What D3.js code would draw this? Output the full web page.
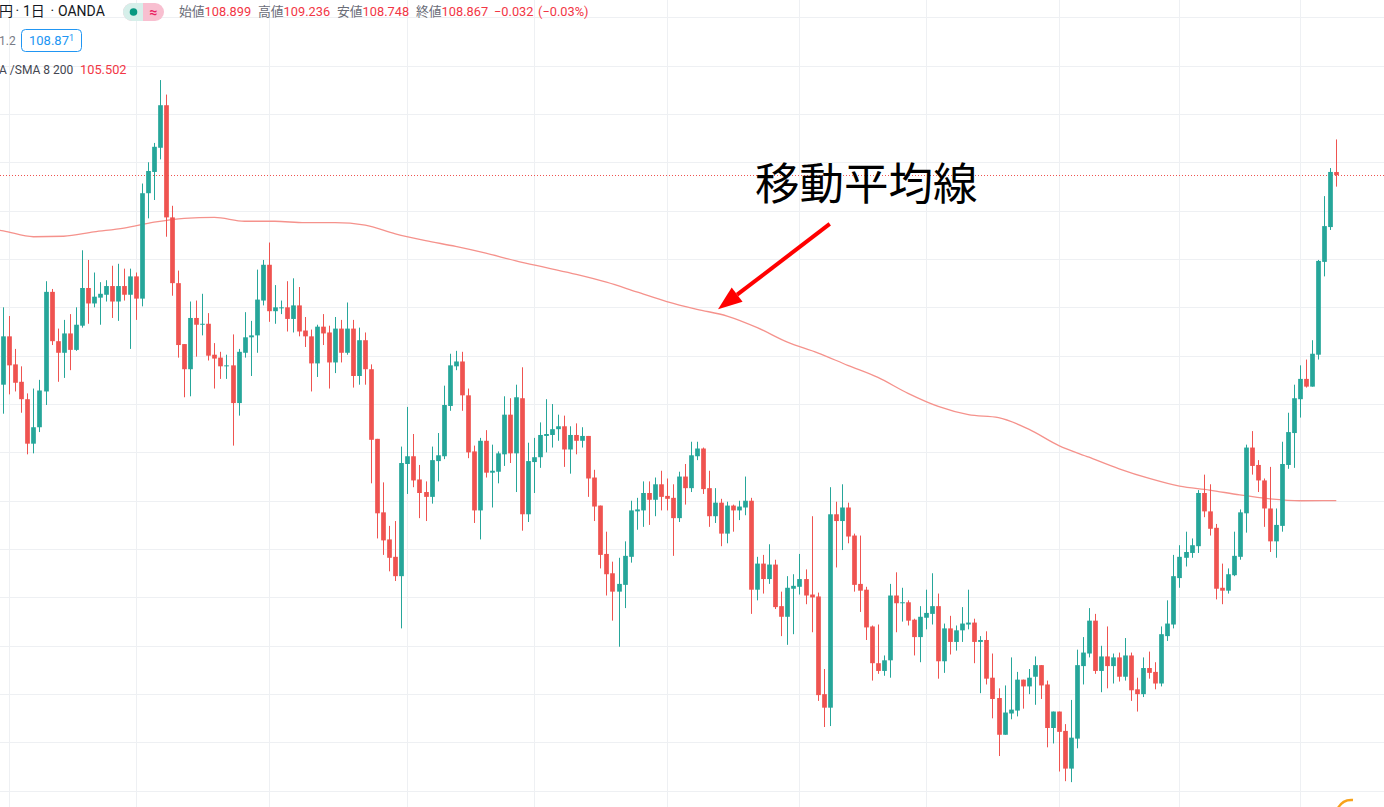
<!DOCTYPE html>
<html lang="ja">
<head>
<meta charset="UTF-8" />
<title>USD/JPY 1日 OANDA</title>
<script src="https://d3js.org/d3.v7.min.js"></script>
<style>
  body {
    margin: 0;
    overflow: hidden;
    background: #fff;
    font-family: Roboto, "Noto Sans CJK JP", sans-serif;
  }
  svg { display: block; }
</style>
</head>
<body>

<svg id="chart"></svg>

<script>
// daily bars (first bar 2020-04-30)
const openP = [
  106.70,107.20,106.91,106.73,106.55,106.09,106.26,106.63,107.66,107.15,
  107.03,107.23,107.06,107.31,107.70,107.54,107.60,107.63,107.72,107.56,
  107.72,107.63,107.82,107.59,108.68,108.90,109.15,109.59,108.43,107.75,
  107.12,106.86,107.39,107.32,107.33,107.01,106.98,106.89,106.90,106.51,
  107.03,107.19,107.21,107.57,107.94,107.46,107.49,107.50,107.38,107.52,
  107.26,107.20,106.92,107.30,107.24,106.93,107.28,107.03,107.28,106.79,
  107.16,106.86,106.14,105.38,105.10,104.92,104.72,105.88,105.96,105.72,
  105.59,105.54,105.91,105.96,106.48,106.89,106.94,106.59,106.01,105.40,
  106.12,105.79,105.80,105.98,106.39,105.99,106.56,105.36,105.90,105.95,
  106.17,106.18,106.24,106.27,106.03,106.18,106.12,106.17,105.74,105.45,
  104.95,104.75,104.56,104.63,104.92,105.39,105.40,105.58,105.51,105.67,
  105.55,105.53,105.32,105.75,105.63,105.96,106.04,105.63,105.34,105.48,
  105.16,105.45,105.40,105.43,105.50,104.58,104.85,104.69,104.84,104.41,
  104.30,104.59,104.61,104.69,104.53,104.51,103.50,103.36,105.36,105.29,
  105.43,105.14,104.64,104.58,104.20,103.82,103.74,103.85,104.52,104.44,
  104.45,104.27,104.09,104.29,104.33,104.41,103.84,104.18,104.04,104.16,
  104.22,104.24,104.04,104.06,103.67,103.46,103.08,103.30,103.33,103.65,
  103.58,103.68,103.80,103.60,103.15,103.32,103.12,102.73,103.04,103.79,
  103.92,104.26,103.74,103.89,103.79,103.88,103.68,103.90,103.55,103.50,
  103.77,103.73,103.61,104.10,104.22,104.70,104.91,104.96,105.03,105.58,
  105.39,105.22,104.60,104.57,104.73,104.92,105.37,106.05,105.87,105.71,
  105.42,105.08,105.24,105.87,106.20,106.55,106.76,106.68,107.01,107.97,
  108.33,108.899
];
const highP = [
  107.50,107.41,107.07,106.89,106.61,106.66,106.75,107.77,107.69,107.28,
  107.37,107.43,107.50,108.09,107.99,107.86,107.76,107.78,107.93,107.95,
  107.90,107.90,107.86,108.78,109.00,109.20,109.85,109.70,108.55,107.88,
  107.12,107.56,107.57,107.64,107.44,107.13,107.04,107.01,107.22,107.07,
  107.45,107.36,107.89,107.99,108.17,107.73,107.57,107.77,107.80,107.71,
  107.40,107.27,107.32,107.43,107.31,107.40,107.37,107.55,107.37,107.29,
  107.24,106.91,106.14,105.69,105.24,105.29,106.06,106.47,106.19,105.87,
  105.70,106.06,106.20,106.69,107.02,107.05,107.04,106.66,106.07,106.15,
  106.23,106.08,106.01,106.58,106.56,106.70,106.88,106.10,106.15,106.31,
  106.55,106.50,106.39,106.38,106.27,106.30,106.26,106.17,105.82,105.45,
  105.18,104.87,104.91,105.08,105.50,105.53,105.70,105.70,105.74,105.81,
  105.73,105.67,105.80,105.88,106.11,106.11,106.05,105.81,105.63,105.52,
  105.49,105.46,105.50,105.75,105.53,104.92,104.94,105.05,104.89,104.56,
  104.72,104.74,104.95,104.79,105.34,104.55,103.76,105.64,105.49,105.67,
  105.48,105.16,105.14,104.61,104.21,104.22,103.90,104.64,104.76,104.60,
  104.47,104.28,104.41,104.58,104.75,104.54,104.23,104.31,104.21,104.40,
  104.58,104.28,104.10,104.15,103.92,103.56,103.59,103.88,103.73,103.65,
  103.76,103.89,103.80,103.64,103.32,103.32,103.19,103.44,103.96,104.09,
  104.39,104.33,104.00,104.20,103.92,103.93,104.08,103.93,103.67,103.88,
  103.94,103.83,104.20,104.47,104.94,105.04,105.18,105.11,105.61,105.77,
  105.67,105.26,104.85,104.80,105.18,105.41,106.08,106.22,105.92,105.73,
  105.85,105.42,106.11,106.41,106.70,106.90,106.96,107.16,107.99,108.65,
  108.94,109.236
];
const lowP = [
  106.40,106.60,106.63,106.41,105.98,105.99,106.21,106.49,107.11,106.73,
  106.77,106.85,107.05,107.29,107.33,107.50,107.32,107.56,107.39,107.36,
  107.57,107.07,107.37,107.51,108.42,108.61,109.03,108.23,107.62,106.98,
  106.57,106.58,106.99,107.21,106.95,106.66,106.76,106.76,106.07,106.38,
  106.98,106.79,107.03,107.52,107.35,107.33,107.43,107.25,107.24,107.20,
  107.09,106.63,106.78,107.11,106.66,106.82,106.93,107.01,106.67,106.70,
  106.70,105.68,105.11,104.94,104.77,104.67,104.18,105.57,105.64,105.32,
  105.29,105.47,105.70,105.93,106.43,106.85,106.43,105.94,105.27,105.10,
  105.74,105.43,105.68,105.86,105.89,105.59,105.19,105.28,105.58,105.84,
  106.00,106.05,106.12,105.85,105.78,105.98,106.05,105.54,105.29,104.80,
  104.52,104.26,103.99,104.39,104.86,105.20,105.23,105.25,105.34,105.40,
  105.40,104.93,105.28,105.46,105.59,105.92,105.57,105.23,105.27,105.03,
  105.06,105.18,105.30,105.35,104.33,104.47,104.54,104.64,104.38,104.10,
  104.01,104.12,104.53,104.43,104.14,103.43,103.16,103.17,104.81,104.99,
  105.06,104.56,104.35,104.06,103.64,103.71,103.69,103.67,104.14,104.25,
  104.21,103.90,103.83,104.17,104.22,103.66,103.72,103.91,103.95,104.04,
  104.17,103.82,103.51,103.60,103.25,102.86,103.08,103.24,103.27,103.35,
  103.50,103.39,103.45,102.95,102.99,102.70,102.60,102.59,102.94,103.60,
  103.88,103.71,103.52,103.56,103.61,103.63,103.64,103.43,103.32,103.47,
  103.66,103.55,103.58,104.05,104.18,104.60,104.82,104.91,104.96,105.33,
  105.14,104.48,104.43,104.54,104.72,104.89,105.17,105.77,105.59,105.23,
  104.97,104.91,105.18,105.83,105.84,106.36,106.67,106.68,106.96,107.82,
  108.30,108.748
];
const closeP = [
  107.20,106.90,106.72,106.55,106.09,106.26,106.64,107.66,107.15,107.03,
  107.23,107.06,107.32,107.70,107.54,107.61,107.64,107.72,107.56,107.72,
  107.63,107.82,107.59,108.68,108.91,109.16,109.59,108.43,107.75,107.11,
  106.86,107.39,107.32,107.33,107.00,106.97,106.89,106.90,106.51,107.04,
  107.19,107.21,107.58,107.94,107.46,107.50,107.50,107.38,107.52,107.25,
  107.20,106.92,107.30,107.23,106.93,107.28,107.03,107.28,106.79,107.16,
  106.86,106.13,105.37,105.09,104.91,104.72,105.89,105.96,105.71,105.58,
  105.54,105.92,105.97,106.49,106.90,106.94,106.59,106.00,105.40,106.12,
  105.79,105.81,105.99,106.39,105.99,106.57,105.36,105.91,105.95,106.18,
  106.19,106.24,106.27,106.03,106.18,106.12,106.17,105.73,105.44,104.94,
  104.74,104.56,104.64,104.93,105.40,105.41,105.58,105.51,105.67,105.54,
  105.52,105.32,105.75,105.63,105.97,106.04,105.62,105.34,105.48,105.16,
  105.45,105.40,105.44,105.50,104.58,104.85,104.69,104.84,104.40,104.30,
  104.60,104.62,104.69,104.52,104.50,103.49,103.36,105.36,105.29,105.43,
  105.13,104.63,104.57,104.19,103.82,103.74,103.85,104.52,104.44,104.45,
  104.26,104.09,104.30,104.34,104.41,103.84,104.18,104.04,104.16,104.23,
  104.24,104.04,104.06,103.66,103.45,103.08,103.31,103.34,103.65,103.58,
  103.67,103.80,103.59,103.15,103.32,103.11,102.73,103.05,103.80,103.93,
  104.26,103.74,103.89,103.79,103.88,103.68,103.90,103.54,103.50,103.77,
  103.72,103.61,104.12,104.23,104.72,104.92,104.97,105.04,105.58,105.39,
  105.21,104.59,104.57,104.74,104.93,105.38,106.05,105.86,105.71,105.42,
  105.08,105.25,105.88,106.21,106.56,106.76,106.68,107.02,107.98,108.34,
  108.90,108.867
];

// SMA 200, read at every fifth bar (index -1 is the bar just off the left edge)
const smaIdx = [-1, 0, 5, 10, 15, 20, 25, 30, 35, 40, 45, 50, 55, 60, 65, 70, 75, 80, 85, 90,
  95, 100, 105, 110, 115, 120, 125, 130, 135, 140, 145, 150, 155, 160, 165, 170, 175, 180,
  185, 190, 195, 200, 205, 210, 215, 221];
const smaVal = [108.30, 108.29, 108.23, 108.235, 108.28, 108.32, 108.38, 108.42, 108.43, 108.39,
  108.39, 108.375, 108.375, 108.35, 108.26, 108.19, 108.13, 108.06, 107.98, 107.91,
  107.84, 107.76, 107.66, 107.56, 107.48, 107.41, 107.29, 107.14, 107.03, 106.90,
  106.775, 106.61, 106.475, 106.39, 106.36, 106.24, 106.07, 105.95, 105.83, 105.73,
  105.65, 105.61, 105.56, 105.52, 105.50, 105.502];

const priceGrid = [102.5, 103, 103.5, 104, 104.5, 105, 105.5, 106, 106.5, 107, 107.5,
  108, 108.5, 109, 109.5, 110, 110.5];

const firstDay = "2020-04-30";
const holidays = ["2020-12-25", "2021-01-01"];

const legendOHLC = [["始値", "108.899"], ["高値", "109.236"], ["安値", "108.748"], ["終値", "108.867"]];
const legendChange = ["−0.032", "(−0.03%)"];
const lastBid = "108.87";
const smaLabel = "105.502";

const W = 1384, H = 807;
const UP = "#26a69a", DOWN = "#ef5350";

const svg = d3.select("#chart").attr("width", W).attr("height", H);

const x = d3.scaleLinear().domain([0, closeP.length - 1]).range([3.3, 1336.3]);
const y = d3.scaleLinear().domain([102.333, 110.678]).range([H, 0]);

// trading days -> month boundaries for the vertical grid
const parse = d3.utcParse("%Y-%m-%d"), fmt = d3.utcFormat("%Y-%m-%d");
const dates = [];
for (let d = parse(firstDay); dates.length < closeP.length; d = d3.utcDay.offset(d, 1)) {
  const wd = d.getUTCDay();
  if (wd === 0 || wd === 6 || holidays.includes(fmt(d))) continue;
  dates.push(d);
}
const monthStarts = d3.range(1, dates.length)
  .filter(i => dates[i].getUTCMonth() !== dates[i - 1].getUTCMonth());

// grid
const gridH = svg.append("g").attr("stroke", "#eef0f3").attr("shape-rendering", "crispEdges");
gridH.selectAll("line").data(priceGrid).join("line")
  .attr("x1", 0).attr("x2", W)
  .attr("y1", d => Math.round(y(d)) + 0.5).attr("y2", d => Math.round(y(d)) + 0.5);

const gridV = svg.append("g").attr("stroke", "#eef0f3").attr("shape-rendering", "crispEdges");
gridV.selectAll("line").data(monthStarts).join("line")
  .attr("y1", 0).attr("y2", H)
  .attr("x1", i => Math.round(x(i)) + 0.5).attr("x2", i => Math.round(x(i)) + 0.5);

// last price line
const lastClose = closeP[closeP.length - 1];
svg.append("line")
  .attr("x1", 0).attr("x2", W)
  .attr("y1", Math.round(y(lastClose)) + 0.5).attr("y2", Math.round(y(lastClose)) + 0.5)
  .attr("stroke", DOWN).attr("stroke-width", 1).attr("stroke-dasharray", "1 2");

// SMA 200
const sma = d3.line()
  .x(d => x(d[0])).y(d => y(d[1]))
  .curve(d3.curveMonotoneX);
svg.append("path")
  .datum(d3.zip(smaIdx, smaVal))
  .attr("d", sma)
  .attr("fill", "none")
  .attr("stroke", "#f5928c")
  .attr("stroke-width", 1.3);

// candles
const bars = closeP.map((c, i) => ({ i, o: openP[i], h: highP[i], l: lowP[i], c }));
const bw = 4.7;
const candles = svg.append("g").selectAll("g").data(bars).join("g")
  .attr("fill", d => d.c >= d.o ? UP : DOWN)
  .attr("stroke", d => d.c >= d.o ? UP : DOWN);

candles.append("line")
  .attr("x1", d => Math.round(x(d.i)) + 0.5).attr("x2", d => Math.round(x(d.i)) + 0.5)
  .attr("y1", d => y(d.h)).attr("y2", d => y(d.l))
  .attr("stroke-width", 1);

candles.append("rect")
  .attr("stroke", "none")
  .attr("x", d => Math.round(x(d.i)) + 0.5 - bw / 2)
  .attr("width", bw)
  .attr("y", d => y(Math.max(d.o, d.c)))
  .attr("height", d => Math.max(1, Math.abs(y(d.o) - y(d.c))));

// legend
const legend = svg.append("g").attr("font-family", "Roboto, 'Noto Sans CJK JP', sans-serif");
const row1 = 16;
const title = [["円", -1], ["·", 15.5], ["1日", 23], ["·", 50.5], ["OANDA", 58]];
title.forEach(([t, px]) => {
  legend.append("text").attr("x", px).attr("y", row1).attr("font-size", 14).attr("fill", "#131722").text(t);
});

// status pill
legend.append("rect").attr("x", 123).attr("y", 3).attr("width", 41).attr("height", 18).attr("rx", 9)
  .attr("fill", "#f8bfd0");
legend.append("path").attr("d", "M143,3 H132 A9,9 0 0 0 132,21 H143 Z").attr("fill", "#d6efea");
legend.append("circle").attr("cx", 133.5).attr("cy", 12).attr("r", 3.8).attr("fill", "#089981");
legend.append("text").attr("x", 153.5).attr("y", 16.5).attr("text-anchor", "middle")
  .attr("font-size", 14).attr("font-weight", 700).attr("fill", "#e91e63").text("≈");

const ohlcX = [179, 258, 337, 416];
legendOHLC.forEach(([lab, val], k) => {
  const t = legend.append("text").attr("x", ohlcX[k]).attr("y", row1).attr("font-size", 12.8);
  t.append("tspan").attr("fill", "#6a6d78").text(lab);
  t.append("tspan").attr("fill", "#f23645").text(val);
});
legend.append("text").attr("x", 494).attr("y", row1).attr("font-size", 12.8).attr("fill", "#f23645").text(legendChange[0]);
legend.append("text").attr("x", 538).attr("y", row1).attr("font-size", 12.8).attr("fill", "#f23645").text(legendChange[1]);

// row 2
legend.append("text").attr("x", -1).attr("y", 44.5).attr("font-size", 12).attr("fill", "#787b86").text("1.2");
legend.append("rect").attr("x", 21.5).attr("y", 29.5).attr("width", 60).attr("height", 22).attr("rx", 4)
  .attr("fill", "#fff").attr("stroke", "#2196f3").attr("stroke-width", 1);
const bid = legend.append("text").attr("x", 29).attr("y", 45).attr("font-size", 13).attr("fill", "#2196f3");
bid.append("tspan").text(lastBid);
bid.append("tspan").attr("font-size", 9).attr("dy", -4).text("1");

// row 3
legend.append("text").attr("x", -1).attr("y", 73.5).attr("font-size", 12)
  .attr("fill", "#434651").text("A /SMA 8 200");
legend.append("text").attr("x", 80).attr("y", 73.5).attr("font-size", 12.8)
  .attr("fill", "#f23645").text(smaLabel);

// annotation: arrow pointing at the moving average
const tip = [x(118.5), y(107.48)];
const tail = [tip[0] + 111.7, tip[1] - 85.3];
const ang = Math.atan2(tip[1] - tail[1], tip[0] - tail[0]);
const headLen = 24, headHalf = 9;
const base = [tip[0] - headLen * Math.cos(ang), tip[1] - headLen * Math.sin(ang)];
const nx = -Math.sin(ang), ny = Math.cos(ang);
svg.append("line")
  .attr("x1", tail[0]).attr("y1", tail[1])
  .attr("x2", base[0]).attr("y2", base[1])
  .attr("stroke", "#ff0000").attr("stroke-width", 4);
svg.append("path")
  .attr("d", `M${tip[0]},${tip[1]} L${base[0] + headHalf * nx},${base[1] + headHalf * ny} L${base[0] - headHalf * nx},${base[1] - headHalf * ny} Z`)
  .attr("fill", "#ff0000");

svg.append("text")
  .attr("x", 755).attr("y", 200)
  .attr("font-family", "'Noto Sans CJK JP', sans-serif")
  .attr("font-size", 44.5)
  .attr("fill", "#000")
  .text("移動平均線");

// small logo mark at the bottom right
svg.append("path")
  .attr("d", "M1338,808 Q1343,799 1353,800")
  .attr("fill", "none").attr("stroke", "#f7a21b").attr("stroke-width", 2.5);
</script>

</body>
</html>
